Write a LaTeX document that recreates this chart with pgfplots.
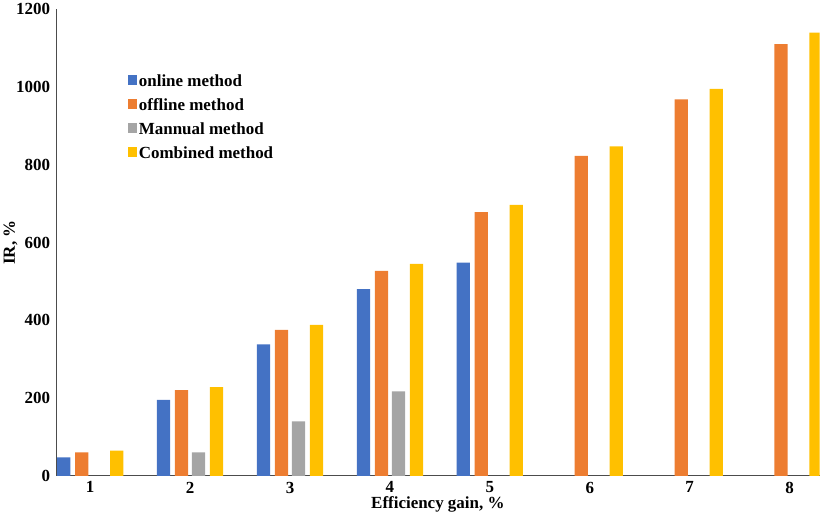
\documentclass[border=0pt]{standalone}
\usepackage{pgfplots}
\pgfplotsset{compat=1.18}
\usepackage{fontspec}
\setmainfont{Liberation Serif}
\definecolor{cb}{HTML}{4472C4}
\definecolor{co}{HTML}{ED7D31}
\definecolor{cg}{HTML}{A5A5A5}
\definecolor{cy}{HTML}{FFC000}
\begin{document}
\begin{tikzpicture}
\begin{axis}[
  scale only axis, width=720pt, height=440pt,
  xmin=0.66, xmax=8.3, ymin=0, ymax=1200,
  axis x line=bottom, axis y line=left,
  axis line style={-, black!70, line width=0.8pt},
  xtick={1,...,8}, ytick={0,200,...,1200},
  tick style={draw=none},
  tick label style={font=\fontsize{16}{18}\selectfont\bfseries},
  /pgf/number format/assume math mode=true,
  /pgf/number format/1000 sep={},
  xlabel={\bfseries Efficiency gain, \%},
  ylabel={\bfseries IR, \%},
  label style={font=\fontsize{16}{18}\selectfont},
  xlabel style={yshift=4pt},
  ylabel style={yshift=-8pt},
  bar width=12.5pt,
  legend cell align=left,
  legend style={at={(0.09,0.87)}, anchor=north west, draw=none, fill=none,
    font=\fontsize{16}{18}\selectfont\bfseries, row sep=6pt},
  legend image code/.code={\fill[#1] (0pt,-4pt) rectangle (8pt,6pt);},
]
\addplot[ybar, bar shift=-25pt, fill=cb, draw=none] coordinates {(1,47)(2,195)(3,338)(4,480)(5,548)};
\addplot[ybar, bar shift=-8pt, fill=co, draw=none] coordinates {(1,60)(2,220)(3,375)(4,527)(5,678)(6,823)(7,968)(8,1110)};
\addplot[ybar, bar shift=8pt, fill=cg, draw=none] coordinates {(2,60)(3,140)(4,217)};
\addplot[ybar, bar shift=25pt, fill=cy, draw=none] coordinates {(1,65)(2,228)(3,388)(4,545)(5,697)(6,847)(7,995)(8,1140)};
\legend{online method, offline method, Mannual method, Combined method}
\end{axis}
\end{tikzpicture}
\end{document}
